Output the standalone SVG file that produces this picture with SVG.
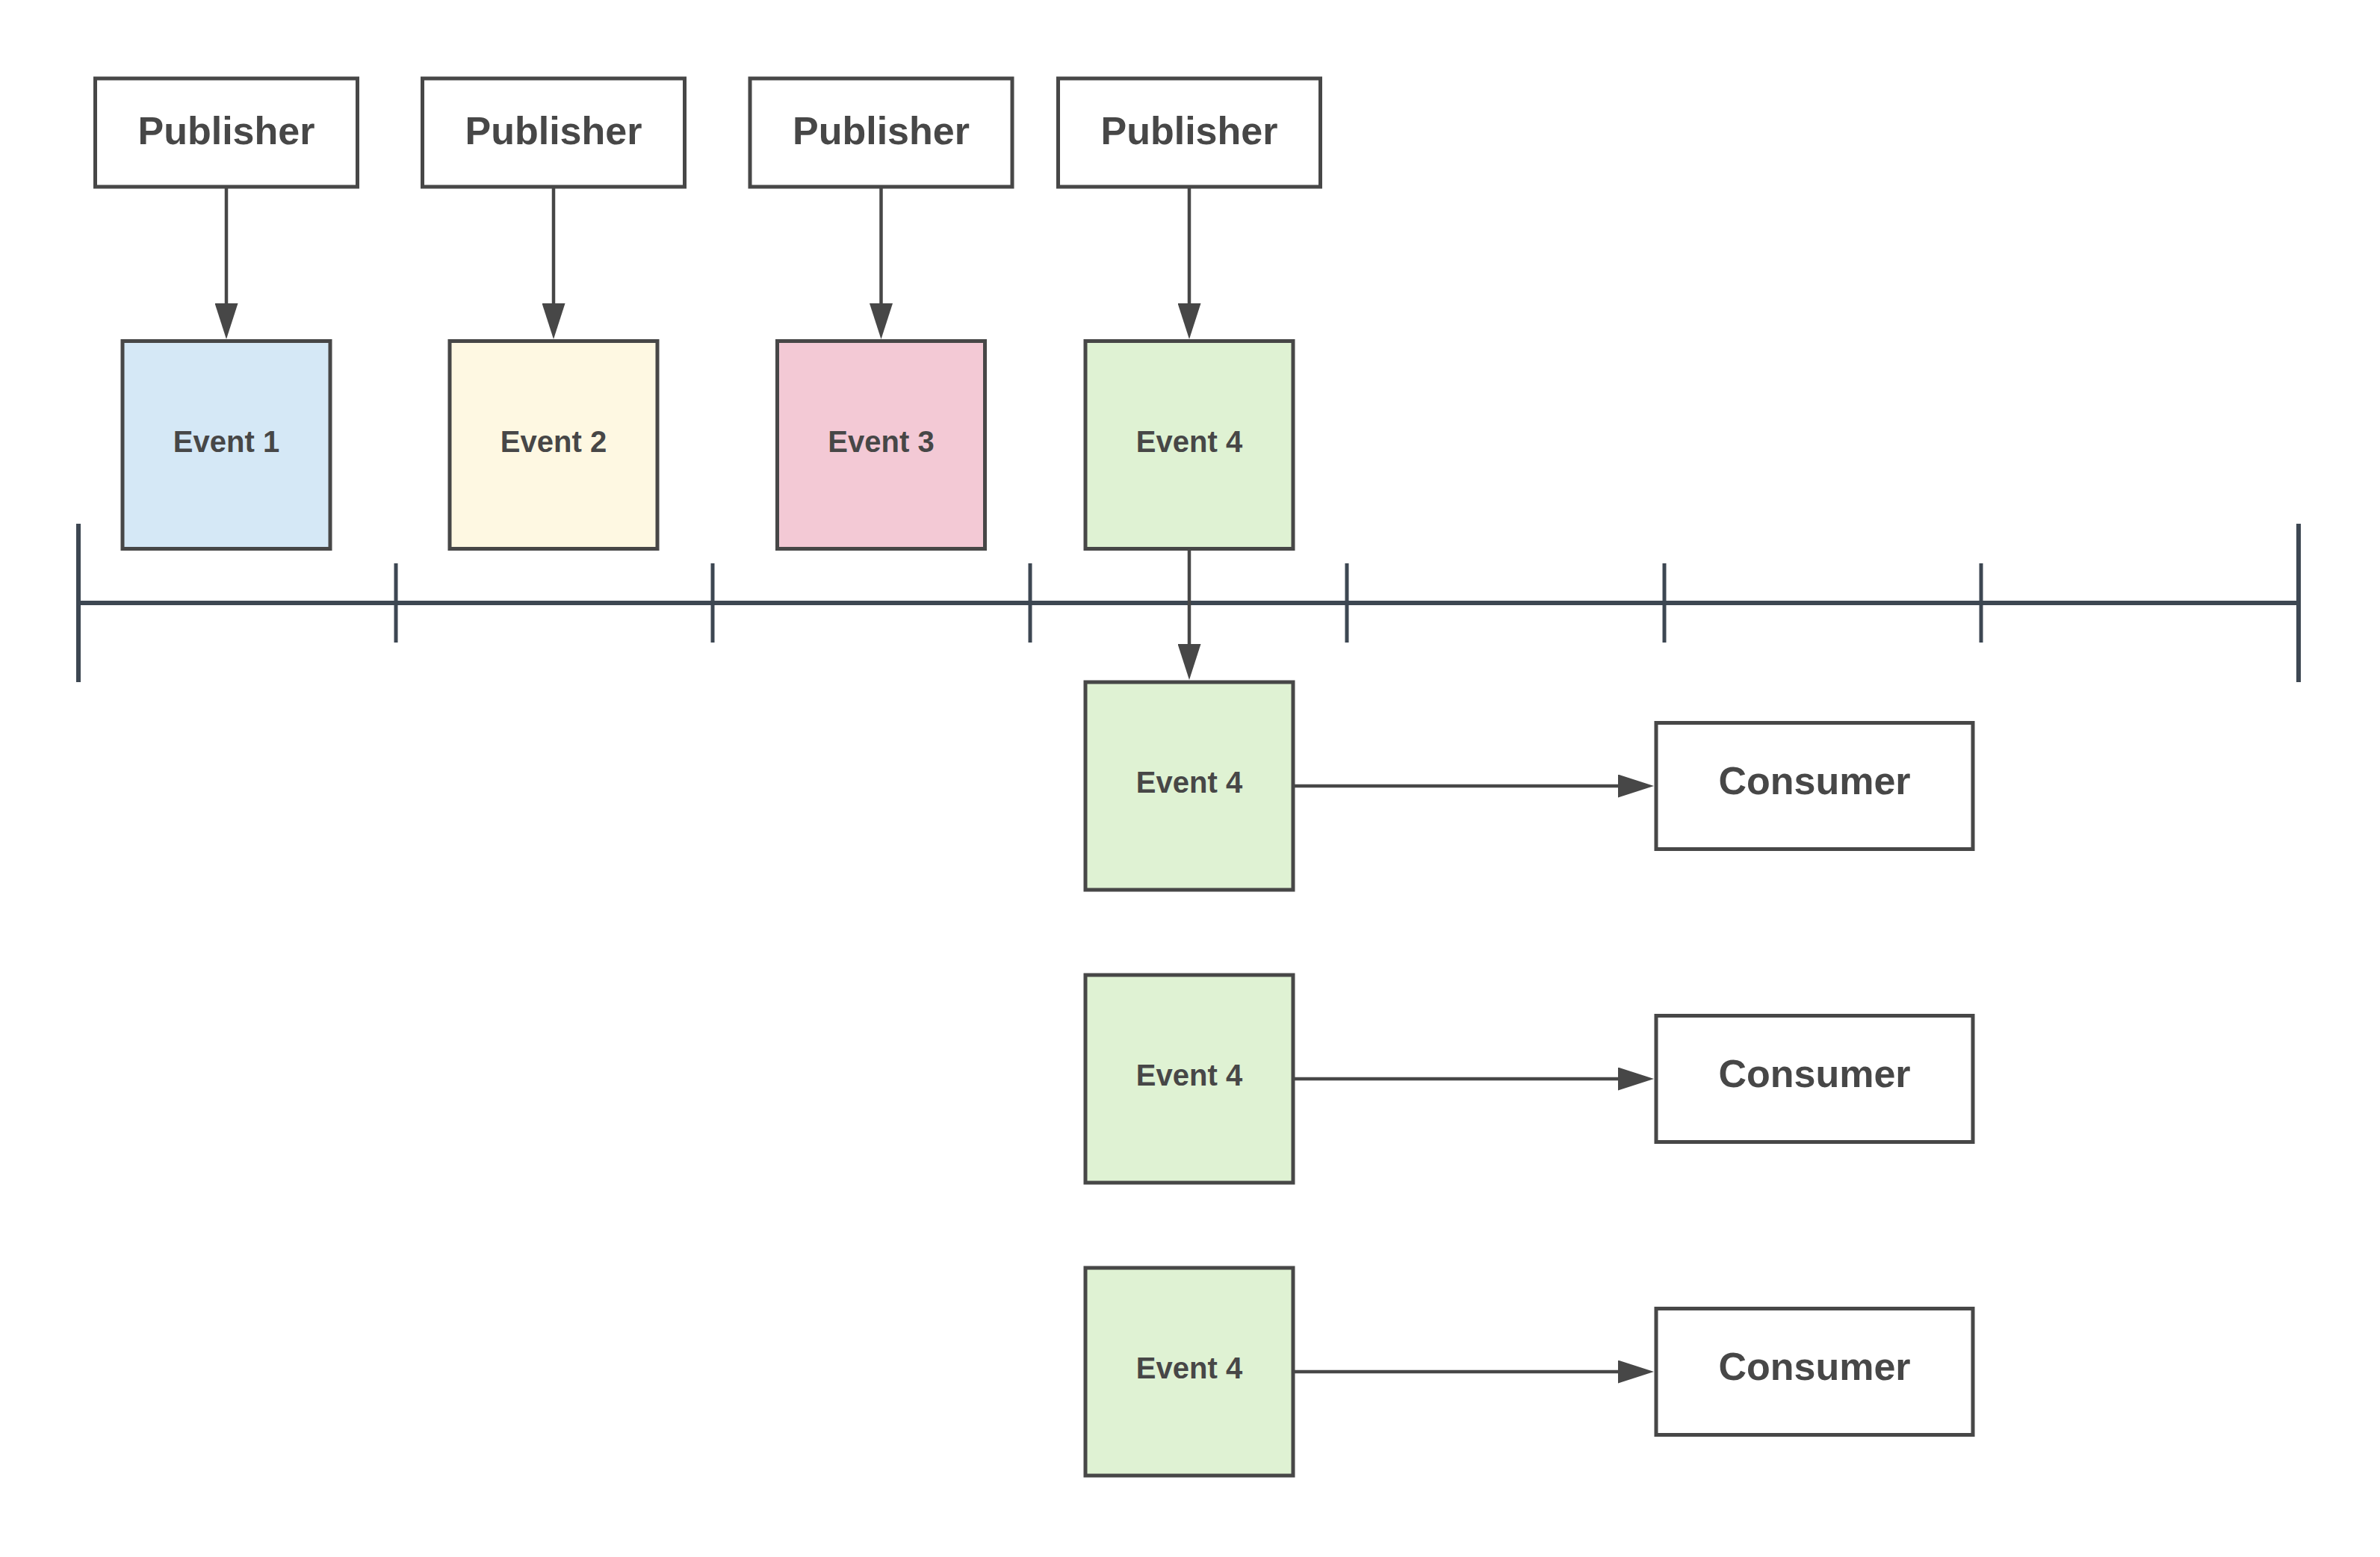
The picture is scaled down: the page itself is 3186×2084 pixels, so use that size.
<svg xmlns="http://www.w3.org/2000/svg" width="3186" height="2084" viewBox="0 0 3186 2084">
<defs>
<marker id="ah" markerUnits="userSpaceOnUse" viewBox="0 0 48 31" refX="0" refY="15.5" markerWidth="48" markerHeight="31" orient="auto">
<path d="M0,0 L48,15.5 L0,31 Z" fill="#474747"/>
</marker>
</defs>
<style>
.box{stroke:#474747;stroke-width:5;}
.pub{fill:#ffffff;}
.t{font-family:"Liberation Sans",Arial,sans-serif;font-weight:bold;fill:#474747;text-anchor:middle;}
.big{font-size:52px;}
.ev{font-size:40px;}
.tl{stroke:#3d4752;fill:none;}
.conn{stroke:#474747;stroke-width:4.5;fill:none;marker-end:url(#ah);}
</style>
<rect width="3186" height="2084" fill="#ffffff"/>
<g id="timeline">
<line class="tl" x1="105" y1="807" x2="3077" y2="807" stroke-width="6"/>
<line class="tl" x1="105" y1="701" x2="105" y2="913" stroke-width="6"/>
<line class="tl" x1="3077" y1="701" x2="3077" y2="913" stroke-width="6"/>
<line class="tl" x1="530" y1="754" x2="530" y2="860" stroke-width="5"/>
<line class="tl" x1="954" y1="754" x2="954" y2="860" stroke-width="5"/>
<line class="tl" x1="1379" y1="754" x2="1379" y2="860" stroke-width="5"/>
<line class="tl" x1="1803" y1="754" x2="1803" y2="860" stroke-width="5"/>
<line class="tl" x1="2228" y1="754" x2="2228" y2="860" stroke-width="5"/>
<line class="tl" x1="2652" y1="754" x2="2652" y2="860" stroke-width="5"/>
</g>
<g id="pub1"><rect class="box pub" x="127.5" y="105" width="351" height="145"/><text class="t big" x="303" y="193">Publisher</text></g>
<g id="pub2"><rect class="box pub" x="565.5" y="105" width="351" height="145"/><text class="t big" x="741" y="193">Publisher</text></g>
<g id="pub3"><rect class="box pub" x="1004" y="105" width="351" height="145"/><text class="t big" x="1179.5" y="193">Publisher</text></g>
<g id="pub4"><rect class="box pub" x="1416.5" y="105" width="351" height="145"/><text class="t big" x="1592" y="193">Publisher</text></g>
<g id="event1"><rect class="box" fill="#d5e8f6" x="164" y="456.5" width="278" height="278"/><text class="t ev" x="303" y="605">Event 1</text></g>
<g id="event2"><rect class="box" fill="#fef8e2" x="602" y="456.5" width="278" height="278"/><text class="t ev" x="741" y="605">Event 2</text></g>
<g id="event3"><rect class="box" fill="#f3c9d5" x="1040.5" y="456.5" width="278" height="278"/><text class="t ev" x="1179.5" y="605">Event 3</text></g>
<g id="event4"><rect class="box" fill="#dff2d3" x="1453" y="456.5" width="278" height="278"/><text class="t ev" x="1592" y="605">Event 4</text></g>
<g id="event4a"><rect class="box" fill="#dff2d3" x="1453" y="913" width="278" height="278"/><text class="t ev" x="1592" y="1061">Event 4</text></g>
<g id="event4b"><rect class="box" fill="#dff2d3" x="1453" y="1305" width="278" height="278"/><text class="t ev" x="1592" y="1453">Event 4</text></g>
<g id="event4c"><rect class="box" fill="#dff2d3" x="1453" y="1697" width="278" height="278"/><text class="t ev" x="1592" y="1845">Event 4</text></g>
<g id="consumer1"><rect class="box pub" x="2217" y="967.5" width="424" height="169"/><text class="t big" x="2429" y="1063">Consumer</text></g>
<g id="consumer2"><rect class="box pub" x="2217" y="1359.5" width="424" height="169"/><text class="t big" x="2429" y="1455">Consumer</text></g>
<g id="consumer3"><rect class="box pub" x="2217" y="1751.5" width="424" height="169"/><text class="t big" x="2429" y="1847">Consumer</text></g>
<g id="connectors">
<line class="conn" x1="303" y1="250" x2="303" y2="406"/>
<line class="conn" x1="741" y1="250" x2="741" y2="406"/>
<line class="conn" x1="1179.5" y1="250" x2="1179.5" y2="406"/>
<line class="conn" x1="1592" y1="250" x2="1592" y2="406"/>
<line class="conn" x1="1592" y1="734.5" x2="1592" y2="862"/>
<line class="conn" x1="1731" y1="1052" x2="2166" y2="1052"/>
<line class="conn" x1="1731" y1="1444" x2="2166" y2="1444"/>
<line class="conn" x1="1731" y1="1836" x2="2166" y2="1836"/>
</g>
</svg>
